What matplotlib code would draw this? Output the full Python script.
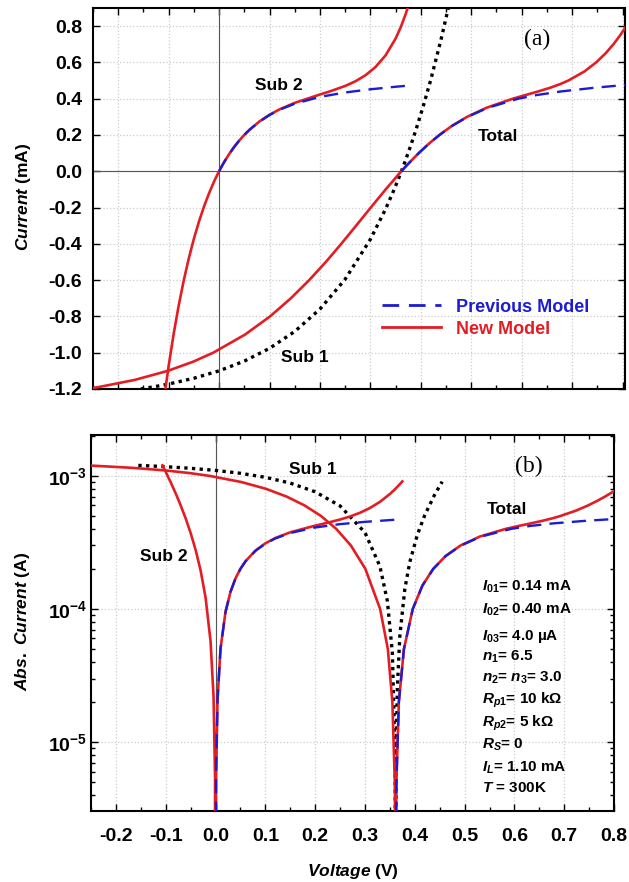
import matplotlib
matplotlib.use('Agg')
import matplotlib.pyplot as plt
from matplotlib.lines import Line2D
from matplotlib.ticker import (MultipleLocator, FormatStrFormatter, FuncFormatter,
                               LogLocator, NullFormatter)
import numpy as np

plt.rcParams['font.family'] = ['Liberation Sans', 'DejaVu Sans']
plt.rcParams['font.weight'] = 'bold'
plt.rcParams['mathtext.fontset'] = 'custom'
plt.rcParams['mathtext.rm'] = 'Liberation Sans:bold'
plt.rcParams['mathtext.it'] = 'Liberation Sans:italic:bold'
plt.rcParams['mathtext.bf'] = 'Liberation Sans:bold'

# ---- data (V in volts, I in mA) ----
# Sub 1 (same for both models)
sub1_v = [-0.155, -0.13, -0.1, -0.05, 0.0, 0.05, 0.1, 0.15, 0.2, 0.25, 0.3, 0.33,
          0.345, 0.355, 0.3605, 0.3615, 0.3625, 0.365, 0.37, 0.38, 0.39, 0.405,
          0.42, 0.44, 0.455]
sub1_i = [-1.1998, -1.1884, -1.1728, -1.1410, -1.1000, -1.0465, -0.9761, -0.8832,
          -0.7597, -0.5952, -0.3753, -0.2092, -0.1145, -0.0466, -0.0075, -0.0003,
          0.0070, 0.0254, 0.0630, 0.1416, 0.2251, 0.3598, 0.5068, 0.7244, 0.9051]

# Sub 2, new model
sub2_v = [-0.1065, -0.1, -0.09, -0.08, -0.07, -0.06, -0.05, -0.04, -0.03, -0.02,
          -0.01, -0.004, -0.001, 0.0, 0.001, 0.004, 0.01, 0.02, 0.03, 0.04, 0.05,
          0.06, 0.08, 0.1, 0.12, 0.15, 0.2, 0.22, 0.25, 0.27, 0.29, 0.31, 0.33,
          0.35, 0.36, 0.37, 0.375]
sub2_i = [-1.2007, -1.0724, -0.8948, -0.7383, -0.6006, -0.4793, -0.3724, -0.2781,
          -0.1950, -0.1218, -0.0571, -0.0220, -0.0054, 0.0, 0.0053, 0.0209, 0.0504,
          0.0950, 0.1344, 0.1695, 0.2005, 0.2281, 0.2744, 0.3113, 0.3413, 0.3768,
          0.4229, 0.4403, 0.4700, 0.4953, 0.5284, 0.5739, 0.6382, 0.7310, 0.7922,
          0.8665, 0.9093]

# Sub 2, previous model
sub2p_v = [0.0, 0.001, 0.004, 0.01, 0.02, 0.03, 0.04, 0.05, 0.06, 0.08, 0.1, 0.12,
           0.15, 0.2, 0.25, 0.3, 0.35, 0.375]
sub2p_i = [0.0, 0.0053, 0.0209, 0.0504, 0.0949, 0.1343, 0.1692, 0.2001, 0.2275,
           0.2734, 0.3098, 0.3389, 0.3722, 0.4097, 0.4341, 0.4516, 0.4656, 0.4718]

# Total, new model
tot_v = [-0.262, -0.2395, -0.1671, -0.1015, -0.0517, -0.0116, 0.0516, 0.1011,
         0.1424, 0.1787, 0.2117, 0.2423, 0.2717, 0.3008, 0.3304, 0.3459, 0.3550,
         0.3599, 0.3612, 0.3615, 0.3618, 0.3631, 0.3680, 0.3782, 0.3959, 0.4153,
         0.4369, 0.4618, 0.4919, 0.5305, 0.5827, 0.6078, 0.6330, 0.6564, 0.6762,
         0.6926, 0.7245, 0.7478, 0.7665, 0.7821, 0.7955, 0.8076]
tot_i = [-1.2, -1.19, -1.15, -1.1, -1.05, -1.0, -0.9, -0.8, -0.7, -0.6, -0.5, -0.4,
         -0.3, -0.2, -0.1, -0.05, -0.02, -0.005, -0.001, 0.0, 0.001, 0.005, 0.02,
         0.05, 0.1, 0.15, 0.2, 0.25, 0.3, 0.35, 0.4, 0.42, 0.44, 0.46, 0.48, 0.5,
         0.55, 0.6, 0.65, 0.7, 0.75, 0.8]

# Total, previous model
totp_v = [0.3615, 0.3618, 0.3631, 0.3680, 0.3782, 0.3960, 0.4154, 0.4371, 0.4621,
          0.4927, 0.5330, 0.5937, 0.6300, 0.6786, 0.7440, 0.7835, 0.8053]
totp_i = [0.0, 0.001, 0.005, 0.02, 0.05, 0.1, 0.15, 0.2, 0.25, 0.3, 0.35, 0.4,
          0.42, 0.44, 0.46, 0.47, 0.475]

params = [r'$\mathit{I_{01}}$= 0.14 mA', r'$\mathit{I_{02}}$= 0.40 mA',
          r'$\mathit{I_{03}}$= 4.0 µA', r'$\mathit{n_{1}}$= 6.5',
          r'$\mathit{n_{2}}$= $\mathit{n_{3}}$= 3.0', r'$\mathit{R_{p1}}$= 10 kΩ',
          r'$\mathit{R_{p2}}$= 5 kΩ', r'$\mathit{R_{S}}$= 0',
          r'$\mathit{I_{L}}$= 1.10 mA', r'$\mathit{T}$ = 300K']
param_y = [0.597, 0.535, 0.465, 0.409, 0.353, 0.293, 0.233, 0.176, 0.115, 0.060]

RED = '#e31d24'
BLUE = '#1c1cd2'
dot = (0, (1.0, 1.3))
dash = (0, (6.0, 3.5))

fig = plt.figure(figsize=(6.29, 8.82), dpi=100)
ax1 = fig.add_axes([0.1479, 0.5590, 0.8458, 0.4320])
ax2 = fig.add_axes([0.1447, 0.0805, 0.8315, 0.4263])

for ax in (ax1, ax2):
    for s in ax.spines.values():
        s.set_linewidth(1.5)
    ax.tick_params(which='both', direction='in', top=True, right=True, width=1.0,
                   labelsize=14)
    ax.tick_params(which='major', length=5)
    ax.tick_params(which='minor', length=3)
    ax.grid(True, which='major', color='#cccccc', linestyle=':', linewidth=0.9)
    ax.set_axisbelow(True)
    ax.xaxis.set_major_locator(MultipleLocator(0.1))
    ax.xaxis.set_minor_locator(MultipleLocator(0.05))

# ---- (a) linear ----
ax1.axhline(0, color='#555555', lw=0.8, zorder=1)
ax1.axvline(0, color='#555555', lw=0.8, zorder=1)
ax1.plot(sub1_v, sub1_i, color='black', lw=2.4, ls=dot, zorder=2)
ax1.plot(sub2_v, sub2_i, color=RED, lw=1.9, zorder=3)
ax1.plot(tot_v, tot_i, color=RED, lw=1.9, zorder=3)
ax1.plot(sub2p_v, sub2p_i, color=BLUE, lw=1.7, ls=dash, zorder=4)
ax1.plot(totp_v, totp_i, color=BLUE, lw=1.7, ls=dash, zorder=4)
ax1.set_xlim(-0.25, 0.805)
ax1.set_ylim(-1.2, 0.9)
ax1.yaxis.set_major_locator(MultipleLocator(0.2))
ax1.yaxis.set_major_formatter(FormatStrFormatter('%.1f'))
ax1.tick_params(axis='x', labelbottom=False)
ax1.tick_params(axis='y', pad=8)
ax1.set_ylabel(r'$\mathit{Current}$ (mA)', fontsize=12.5, fontweight='bold')
ax1.yaxis.set_label_coords(-0.113, 0.503)

ax1.text(0.119, 0.475, 'Sub 2', fontsize=12.5, ha='center', va='center')
ax1.text(0.553, 0.194, 'Total', fontsize=12.5, ha='center', va='center')
ax1.text(0.169, -1.024, 'Sub 1', fontsize=12.5, ha='center', va='center')
ax1.text(0.631, 0.728, '(a)', fontsize=17, ha='center', va='center',
         family='Liberation Serif', fontweight='normal')

h_prev = Line2D([], [], color=BLUE, lw=2.0, ls=dash)
h_new = Line2D([], [], color=RED, lw=2.0)
leg = ax1.legend([h_prev, h_new], ['Previous Model', 'New Model'], loc='upper left',
                 bbox_to_anchor=(0.543, 0.237), frameon=False, fontsize=13,
                 handlelength=3.3, handletextpad=0.8, labelspacing=0.27,
                 borderpad=0, borderaxespad=0)
leg.get_texts()[0].set_color(BLUE)
leg.get_texts()[1].set_color(RED)

# ---- (b) log of absolute current ----
ax2.axvline(0, color='#555555', lw=0.8, zorder=1)
ax2.set_yscale('log', nonpositive='clip')
ax2.plot(sub1_v, np.abs(sub1_i) * 1e-3, color='black', lw=2.4, ls=dot, zorder=2)
ax2.plot(sub2_v, np.abs(sub2_i) * 1e-3, color=RED, lw=1.9, zorder=3)
ax2.plot(tot_v, np.abs(tot_i) * 1e-3, color=RED, lw=1.9, zorder=3)
ax2.plot(sub2p_v, np.abs(sub2p_i) * 1e-3, color=BLUE, lw=1.7, ls=dash, zorder=4)
ax2.plot(totp_v, np.abs(totp_i) * 1e-3, color=BLUE, lw=1.7, ls=dash, zorder=4)
ax2.set_xlim(-0.25, 0.8)
ax2.set_ylim(3.03e-6, 2.03e-3)
ax2.yaxis.set_major_locator(LogLocator(base=10, numticks=10))
ax2.yaxis.set_minor_locator(LogLocator(base=10, subs=np.arange(2, 10), numticks=20))
ax2.yaxis.set_minor_formatter(NullFormatter())
ax2.yaxis.set_major_formatter(
    FuncFormatter(lambda y, pos: r'$\mathbf{10^{%d}}$' % round(np.log10(y))))
ax2.xaxis.set_major_formatter(FormatStrFormatter('%.1f'))
ax2.tick_params(axis='y', pad=3)
ax2.tick_params(axis='x', pad=12)
ax2.set_ylabel(r'$\mathit{Abs.\ Current}$ (A)', fontsize=12.5, fontweight='bold')
ax2.yaxis.set_label_coords(-0.113, 0.505)
ax2.set_xlabel(r'$\mathit{Voltage}$ (V)', fontsize=12.5, fontweight='bold')
ax2.xaxis.set_label_coords(0.5, -0.136)

ax2.text(0.196, 1.11e-3, 'Sub 1', fontsize=12.5, ha='center', va='center')
ax2.text(-0.103, 2.47e-4, 'Sub 2', fontsize=12.5, ha='center', va='center')
ax2.text(0.585, 5.55e-4, 'Total', fontsize=12.5, ha='center', va='center')
ax2.text(0.628, 1.17e-3, '(b)', fontsize=17, ha='center', va='center',
         family='Liberation Serif', fontweight='normal')
for s, y in zip(params, param_y):
    ax2.text(0.747, y, s, fontsize=11, ha='left', va='center',
             transform=ax2.transAxes)

fig.savefig('out.png', dpi=100)
